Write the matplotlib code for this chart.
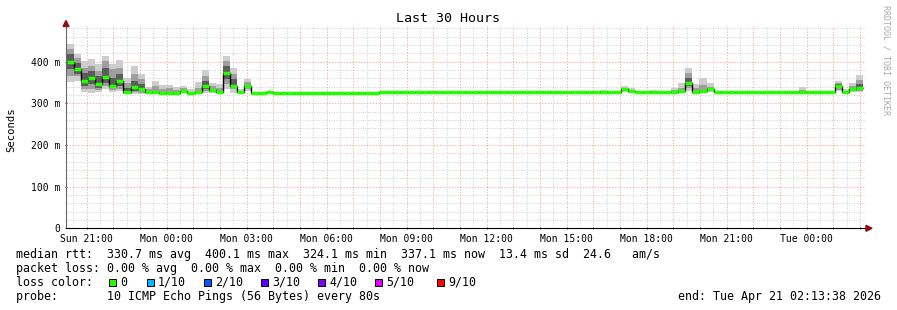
import datetime as dt

import matplotlib.pyplot as plt
import matplotlib.dates  as mdates
import numpy             as np
from   matplotlib.patches import Rectangle, Polygon
from   matplotlib.ticker  import MultipleLocator, FuncFormatter


W, H = 897, 310

# ---- data -----------------------------------------------------------------
start     = dt.datetime(2026, 4, 19, 20, 13, 38)
end       = dt.datetime(2026, 4, 21,  2, 13, 38)
first_bin = dt.datetime(2026, 4, 19, 20, 14, 50)
bin_sec   = 960

# median rtt per 16 min bin, ms
median = [
    400, 382, 353, 360, 346, 364, 341, 353, 328, 339, 334, 327, 328, 326,
    326, 326, 330, 326, 327, 342, 332, 327, 374, 343, 327, 343,
    324.1, 324.1, 326.5, 324.1, 324.1, 324.1, 324.1, 324.1, 324.1, 324.1,
    324.1, 324.1, 324.1, 324.1, 324.1, 324.1, 324.1, 324.1,
    326.5, 326.5, 326.5, 326.5, 326.5, 326.5, 326.5, 326.5, 326.5, 326.5,
    326.5, 326.5, 326.5, 326.5, 326.5, 326.5, 326.5, 326.5, 326.5, 326.5,
    326.5, 326.5, 326.5, 326.5, 326.5, 326.5, 326.5, 326.5, 326.5, 326.5,
    326.5, 326.5, 326.5, 326.5, 334, 329, 326.5, 326.5, 326.5, 326.5,
    326.5, 326.5, 330, 350, 327, 330, 334, 326.5, 326.5, 326.5,
    326.5, 326.5, 326.5, 326.5, 326.5, 326.5, 326.5, 326.5, 326.5, 326.5,
    326.5, 326.5, 326.5, 326.5, 342, 327, 335, 337.1,
]

# smoke (spread of the pings) for the bins that show some
nan = np.nan
smoke_bin = [0, 1, 2, 3, 4, 5, 6, 7, 8, 9, 10, 11, 12, 13, 14, 15, 16, 17,
             18, 19, 20, 21, 22, 23, 24, 25, 75, 78, 79, 82, 85, 86, 87, 88,
             89, 90, 92, 103, 104, 105, 106, 108, 109, 110, 111]
outer_lo  = [351, 354, 328, 326, 328, 334, 328, 330, 323, 323, 323, 323, 323,
             324, 324, 324, 325, 324, 324, 324, 325, 324, 334, 326, 324, 330,
             325, 327, 326, 325, 325, 326, 330, 325, 326, 327, 325, 325, 325,
             325, 325, 329, 325, 327, 327]
outer_hi  = [442, 418, 402, 406, 394, 415, 394, 404, 362, 390, 371, 339, 354,
             344, 345, 339, 343, 334, 351, 380, 350, 346, 415, 386, 335, 358,
             332, 343, 338, 332, 338, 348, 384, 346, 360, 348, 331, 339, 330,
             330, 330, 355, 334, 348, 368]
mid_lo    = [366, 366, 334, 334, 332, 342, 332, 334, 325, 328, 326, 325, 325,
             325, 325, 325, 327, nan, 325, 330, 327, 325, 346, 334, nan, 334,
             nan, 329, 327, nan, 326, 327, 338, 326, 327, 329, nan, 326, nan,
             nan, nan, 332, 326, 329, 330]
mid_hi    = [430, 410, 386, 390, 378, 402, 382, 386, 350, 370, 358, 334, 342,
             334, 336, 332, 336, nan, 338, 366, 342, 336, 402, 370, nan, 351,
             nan, 338, 333, nan, 332, 338, 374, 336, 345, 340, nan, 333, nan,
             nan, nan, 350, 330, 341, 356]
inner_lo  = [382, 370, 342, 346, 336, 350, 336, 342, 327, 331, 330, nan, nan,
             nan, nan, nan, nan, nan, nan, 334, nan, nan, 358, 338, nan, nan,
             nan, nan, nan, nan, nan, nan, 343, nan, nan, nan, nan, nan, nan,
             nan, nan, 336, nan, nan, 333]
inner_hi  = [418, 398, 374, 378, 366, 386, 362, 370, 338, 354, 346, nan, nan,
             nan, nan, nan, nan, nan, nan, 354, nan, nan, 390, 358, nan, nan,
             nan, nan, nan, nan, nan, nan, 362, nan, nan, nan, nan, nan, nan,
             nan, nan, 346, nan, nan, 347]

loss_labels = ['0', '1/10', '2/10', '3/10', '4/10', '5/10', '9/10']
loss_colors = ['#26ff00', '#00b8ff', '#0059ff', '#5e00ff', '#7e00ff',
               '#dd00ff', '#ff0000']

stats_line = ('median rtt:  330.7 ms avg  400.1 ms max  324.1 ms min  '
              '337.1 ms now  13.4 ms sd  24.6   am/s')
loss_line  = 'packet loss: 0.00 % avg  0.00 % max  0.00 % min  0.00 % now'
probe_line = 'probe:       10 ICMP Echo Pings (56 Bytes) every 80s'
end_line   = 'end: ' + end.strftime('%a %b %d %H:%M:%S %Y')


# ---- figure ---------------------------------------------------------------
def fx(x): return x / W
def fy(y): return 1 - y / H

mono = 'DejaVu Sans Mono'

fig = plt.figure(figsize=(W / 100, H / 100), dpi=100)
ax  = fig.add_axes([fx(66), fy(228.3), fx(866) - fx(66), fy(26) - fy(228.3)])

edges = mdates.date2num([first_bin + dt.timedelta(seconds=bin_sec * i)
                         for i in range(len(median) + 1)])
bw    = edges[1] - edges[0]

sb    = np.array(smoke_bin)
left  = edges[sb]
for lo, hi, col in [(outer_lo, outer_hi, '#cdcdcd'),
                    (mid_lo,   mid_hi,   '#9e9e9e'),
                    (inner_lo, inner_hi, '#5c5c5c')]:
    lo = np.array(lo, float)
    hi = np.array(hi, float)
    ok = ~np.isnan(lo)
    ax.bar(left[ok], hi[ok] - lo[ok], bottom=lo[ok], width=bw, align='edge',
           color=col, linewidth=0, zorder=2)

ax.stairs(median, edges, baseline=None, color='black', lw=1.0, zorder=3)
ax.hlines(median, edges[:-1], edges[1:], colors=loss_colors[0], lw=2.5,
          zorder=4)

ax.set_xlim(mdates.date2num(start), mdates.date2num(end))
ax.set_ylim(0, 486)

# axes / grid
ax.xaxis.set_major_locator(mdates.HourLocator())
ax.xaxis.set_minor_locator(mdates.MinuteLocator(byminute=[30]))
ax.xaxis.set_major_formatter(FuncFormatter(
    lambda v, p: mdates.num2date(v).strftime('%a %H:%M')
    if mdates.num2date(v).hour % 3 == 0 else ''))
ax.yaxis.set_major_locator(MultipleLocator(100))
ax.yaxis.set_minor_locator(MultipleLocator(20))
ax.yaxis.set_major_formatter(FuncFormatter(
    lambda v, p: '0' if v == 0 else f'{v:.0f} m'))

ax.grid(which='major', color='#ff0000', alpha=0.3, lw=0.7,
        linestyle=(0, (1.5, 1.5)), zorder=1)
ax.grid(which='minor', color='#999999', alpha=0.45, lw=0.7,
        linestyle=(0, (1, 1.5)), zorder=1)

for s in ['top', 'right']:
    ax.spines[s].set_visible(False)
ax.spines['left'].set_color('#666666')
ax.spines['bottom'].set_color('black')
ax.spines['left'].set_zorder(5)
ax.spines['bottom'].set_zorder(5)

ax.tick_params(which='both', length=2, width=0.7, direction='inout',
               color='#444444', labelsize=7, pad=3)
ax.tick_params(which='minor', length=0)
for t in ax.get_xticklabels() + ax.get_yticklabels():
    t.set_family(mono)

# arrows at the axis ends
fig.add_artist(Polygon([(fx(63), fy(26.5)), (fx(69), fy(26.5)), (fx(66), fy(20.5))],
                       closed=True, color='#8b1010', transform=fig.transFigure))
fig.add_artist(Polygon([(fx(866), fy(225.3)), (fx(866), fy(231.3)), (fx(872), fy(228.3))],
                       closed=True, color='#8b1010', transform=fig.transFigure))

# titles
fig.text(fx(448), fy(19), 'Last 30 Hours', family=mono, fontsize=9.6,
         ha='center', va='center')
fig.text(fx(11), fy(130), 'Seconds', family=mono, fontsize=7.6,
         rotation=90, ha='center', va='center')
fig.text(fx(886), fy(5), 'RRDTOOL / TOBI OETIKER', family=mono, fontsize=6.0,
         rotation=270, ha='center', va='top', color='#aaaaaa')

# legend
fs = 8.4
fig.text(fx(16), fy(254.3), stats_line, family=mono, fontsize=fs, va='center')
fig.text(fx(16), fy(268.3), loss_line,  family=mono, fontsize=fs, va='center')
fig.text(fx(16), fy(282.3), 'loss color:', family=mono, fontsize=fs, va='center')
fig.text(fx(16), fy(296.3), probe_line, family=mono, fontsize=fs, va='center')
fig.text(fx(881), fy(296.3), end_line, family=mono, fontsize=fs,
         va='center', ha='right')

box_x = [109, 147, 204, 261, 318, 375, 437]
for bx, lab, col in zip(box_x, loss_labels, loss_colors):
    fig.add_artist(Rectangle((fx(bx), fy(285.8)), fx(7), 7 / H,
                             facecolor=col, edgecolor='black', lw=0.7,
                             transform=fig.transFigure))
    fig.text(fx(bx + 11), fy(282.3), lab, family=mono, fontsize=fs,
             va='center')

fig.savefig('out.png', dpi=100, facecolor='white')
